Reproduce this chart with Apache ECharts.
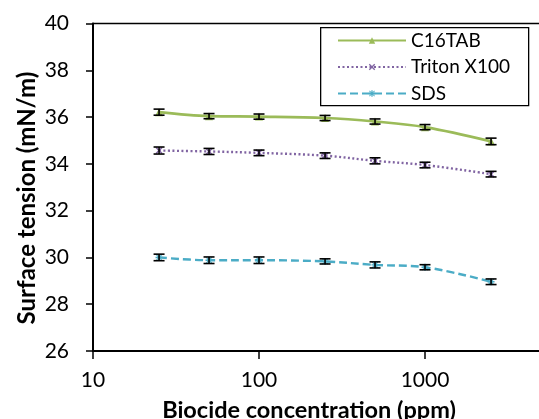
<!DOCTYPE html>
<html>
<head>
<meta charset="utf-8">
<script src="https://cdn.jsdelivr.net/npm/echarts@6/dist/echarts.min.js"></script>
<style>
html,body{margin:0;padding:0;background:#fff;}
#chart{width:539px;height:419px;}
</style>
</head>
<body>
<div id="chart"></div>
<script>
const concentrations = [25, 50, 100, 250, 500, 1000, 2500];
const c16tab = [36.21, 36.04, 36.02, 35.96, 35.81, 35.57, 34.96];
const triton = [34.57, 34.53, 34.47, 34.35, 34.13, 33.95, 33.56];
const sds = [30.00, 29.88, 29.88, 29.83, 29.68, 29.58, 28.96];
const c16tabErr = [0.13, 0.11, 0.11, 0.11, 0.11, 0.11, 0.14];
const tritonErr = [0.15, 0.13, 0.12, 0.12, 0.13, 0.12, 0.12];
const sdsErr = [0.14, 0.14, 0.14, 0.11, 0.13, 0.11, 0.12];
const seriesNames = ['C16TAB', 'Triton X100', 'SDS'];
const yTicks = [26, 28, 30, 32, 34, 36, 38, 40];
const xTicks = [10, 100, 1000, 10000];

const colors = ['#9BBB59', '#8064A2', '#4BACC6'];
const FONT = 'Lato, Carlito, "Open Sans", sans-serif';

function pairs(ys) { return concentrations.map((x, i) => [x, ys[i]]); }
function errData(ys, es) { return concentrations.map((x, i) => [x, ys[i], es[i]]); }

function errorSeries(ys, es) {
  return {
    type: 'custom',
    silent: true,
    z: 5,
    data: errData(ys, es),
    renderItem: function (params, api) {
      const x = api.value(0), y = api.value(1), e = api.value(2);
      const top = api.coord([x, y + e]);
      const bot = api.coord([x, y - e]);
      const hw = 5.5;
      const style = { stroke: '#000', lineWidth: 1.6 };
      return {
        type: 'group',
        children: [
          { type: 'line', shape: { x1: top[0], y1: top[1], x2: bot[0], y2: bot[1] }, style: style },
          { type: 'line', shape: { x1: top[0] - hw, y1: top[1], x2: top[0] + hw, y2: top[1] }, style: style },
          { type: 'line', shape: { x1: bot[0] - hw, y1: bot[1], x2: bot[0] + hw, y2: bot[1] }, style: style }
        ]
      };
    }
  };
}

const xSymbol = 'path://M0,1.5L1.5,0L5,3.5L8.5,0L10,1.5L6.5,5L10,8.5L8.5,10L5,6.5L1.5,10L0,8.5L3.5,5Z';
const starSymbol = 'path://M4,0L6,0L6,3L8.5,0.5L9.5,1.5L7,4L10,4L10,6L7,6L9.5,8.5L8.5,9.5L6,7L6,10L4,10L4,7L1.5,9.5L0.5,8.5L3,6L0,6L0,4L3,4L0.5,1.5L1.5,0.5L4,3Z';

const chart = echarts.init(document.getElementById('chart'), null, { renderer: 'canvas' });
chart.setOption({
  animation: false,
  backgroundColor: '#fff',
  textStyle: { fontFamily: FONT },
  grid: {
    left: 93, top: 23.5, right: -52, bottom: 68,
    show: true, borderColor: '#000', borderWidth: 1.3,
    containLabel: false,
    outerBoundsMode: 'none'
  },
  legend: {
    orient: 'vertical',
    left: 337, top: 31,
    padding: 0,
    itemWidth: 68, itemHeight: 8, itemGap: 7.5,
    textStyle: { fontFamily: FONT, fontSize: 19, color: '#000' },
    data: seriesNames
  },
  xAxis: {
    type: 'log', logBase: 10, min: 10, max: 10000,
    axisLine: { show: true, lineStyle: { color: '#000', width: 2 } },
    axisTick: { show: true, length: 8, lineStyle: { color: '#000', width: 1.5 } },
    minorTick: { show: false },
    splitLine: { show: false },
    axisLabel: { fontSize: 21, color: '#000', margin: 19, fontFamily: FONT,
      formatter: function (v) { return xTicks.indexOf(v) >= 0 ? String(v) : String(Math.round(v)); } }
  },
  yAxis: {
    type: 'value', min: 26, max: 40, interval: 2,
    axisLine: { show: true, lineStyle: { color: '#000', width: 2 } },
    axisTick: { show: true, length: 7, lineStyle: { color: '#000', width: 1.5 } },
    splitLine: { show: false },
    axisLabel: { fontSize: 21, color: '#000', margin: 24, fontFamily: FONT,
      formatter: function (v) { return yTicks.indexOf(v) >= 0 ? String(v) : ''; } }
  },
  graphic: [
    { type: 'rect', left: 320, top: 27, shape: { width: 208, height: 78 },
      style: { fill: '#fff', stroke: '#000', lineWidth: 1.3 }, z: 1 },
    { type: 'text', x: 309, y: 410.5, style: { text: 'Biocide concentration (ppm)', fontFamily: FONT, fontWeight: 'bold', fontSize: 23.5, fill: '#000', align: 'center', verticalAlign: 'middle' } },
    { type: 'text', x: 27, y: 198, rotation: Math.PI / 2, style: { text: 'Surface tension (mN/m)', fontFamily: FONT, fontWeight: 'bold', fontSize: 24, fill: '#000', align: 'center', verticalAlign: 'middle' } }
  ],
  series: [
    { name: seriesNames[0], type: 'line', data: pairs(c16tab), smooth: 0.35,
      symbol: 'triangle', symbolSize: 8, showAllSymbol: true,
      lineStyle: { color: colors[0], width: 2.7, type: 'solid' },
      itemStyle: { color: colors[0] }, z: 3 },
    { name: seriesNames[1], type: 'line', data: pairs(triton), smooth: 0.35,
      symbol: xSymbol, symbolSize: 7,
      lineStyle: { color: colors[1], width: 2.4, type: [2, 2.5] },
      itemStyle: { color: colors[1] }, z: 3 },
    { name: seriesNames[2], type: 'line', data: pairs(sds), smooth: 0.35,
      symbol: starSymbol, symbolSize: 7,
      lineStyle: { color: colors[2], width: 2.4, type: [8, 4] },
      itemStyle: { color: colors[2] }, z: 3 },
    errorSeries(c16tab, c16tabErr),
    errorSeries(triton, tritonErr),
    errorSeries(sds, sdsErr)
  ]
});
</script>
</body>
</html>
